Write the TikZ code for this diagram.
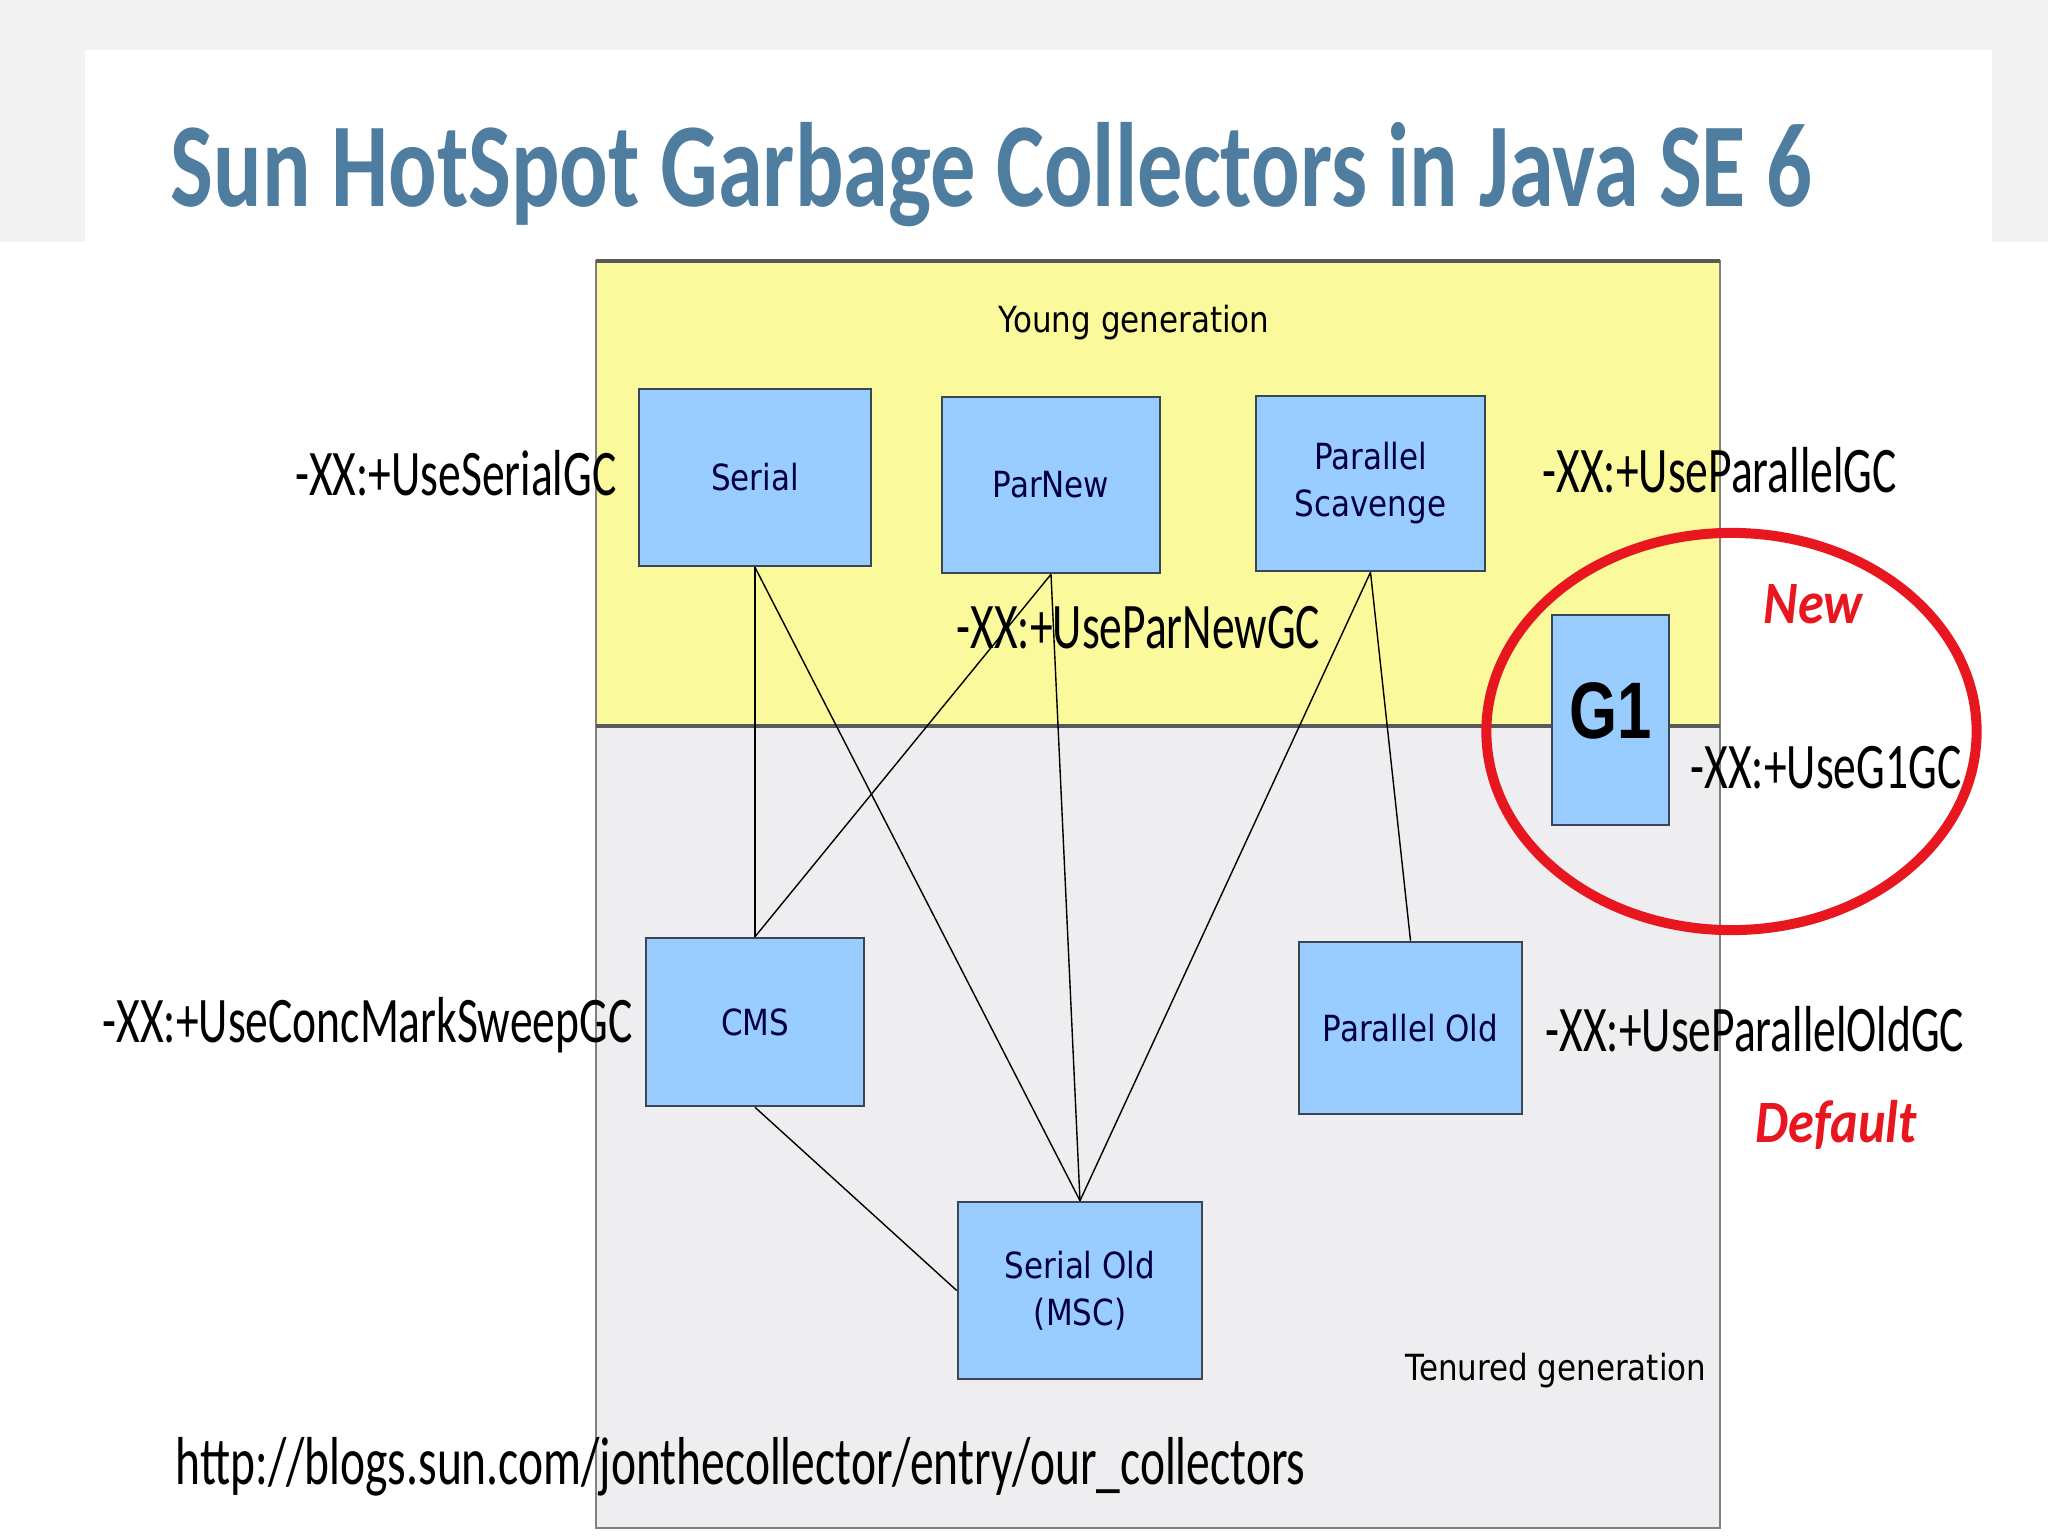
\documentclass[tikz,border=0pt]{standalone}
\usepackage{fontspec}
\usepackage{tikz}
\newfontfamily\titlefont[FakeStretch=0.755]{Carlito}
\newfontfamily\flagfont[FakeStretch=0.70]{Carlito}
\newfontfamily\notefont[FakeStretch=0.87]{Carlito}
\newfontfamily\boxfont[FakeStretch=0.86]{DejaVu Sans}
\newfontfamily\gonefont[FakeStretch=0.77]{Liberation Sans}
\definecolor{titleblue}{HTML}{4F7DA0}
\definecolor{young}{HTML}{FAFA9C}
\definecolor{tenured}{HTML}{EEEEF0}
\definecolor{gcblue}{HTML}{99CCFF}
\definecolor{gcedge}{HTML}{3A4656}
\definecolor{slidegray}{HTML}{F2F2F2}
\definecolor{markred}{HTML}{E8161E}

\begin{document}
\begin{tikzpicture}[x=0.01cm,y=-0.01cm,
    gcbox/.style={draw=gcedge,line width=0.7pt,fill=gcblue,inner sep=0pt,align=center,
      text=black!75!blue,font=\boxfont\fontsize{10.24}{13.37}\selectfont},
    flag/.style={inner sep=0pt,font=\flagfont\fontsize{18.5}{22}\selectfont},
    note/.style={inner sep=0pt,text=markred,font=\notefont\bfseries\itshape\fontsize{17.1}{20}\selectfont},
    genlabel/.style={inner sep=0pt,font=\boxfont\fontsize{10.24}{13}\selectfont}]
  % slide background
  \fill[white] (0,0) rectangle (2048,1536);
  \fill[slidegray] (0,0) rectangle (2048,50);
  \fill[slidegray] (0,50) rectangle (85,242);
  \fill[slidegray] (1992,50) rectangle (2048,242);
  \useasboundingbox (0,0) rectangle (2048,1536);
  \node[anchor=base west,inner sep=0pt,text=titleblue,font=\titlefont\bfseries\fontsize{34.1}{40}\selectfont]
    (title) at (170,206) {Sun HotSpot Garbage Collectors in Java SE 6};
  % generations
  \fill[young] (596,261) rectangle (1720,726);
  \fill[tenured] (596,726) rectangle (1720,1528);
  \draw[black!50,line width=0.5pt] (596,261) rectangle (1720,1528);
  \draw[black!65,line width=0.9pt] (596,261) -- (1720,261);
  \draw[black!65,line width=0.9pt] (596,726) -- (1720,726);
  \node[genlabel,anchor=base] (younglbl) at (1134,332) {Young generation};
  \node[genlabel,anchor=base east] (tenuredlbl) at (1707,1380) {Tenured generation};
  % collectors
  \node[gcbox,minimum width=2.32cm,minimum height=1.77cm] (serial) at (755,477.5) {Serial};
  \node[gcbox,minimum width=2.18cm,minimum height=1.76cm] (parnew) at (1051,485) {ParNew};
  \node[gcbox,minimum width=2.29cm,minimum height=1.75cm] (parscav) at (1370.5,483.5) {Parallel\\Scavenge};
  \node[gcbox,minimum width=2.18cm,minimum height=1.68cm] (cms) at (755,1022) {CMS};
  \node[gcbox,minimum width=2.23cm,minimum height=1.72cm] (parold) at (1410.5,1028) {Parallel Old};
  \node[gcbox,minimum width=2.44cm,minimum height=1.77cm] (serold) at (1080,1290.5) {Serial Old\\(MSC)};
  \node[gcbox,minimum width=1.17cm,minimum height=2.10cm,text depth=0.19cm,text=black,
    font=\gonefont\bfseries\fontsize{22.8}{26}\selectfont] (g1) at (1610.5,720) {G1};
  \foreach \a/\b in {serial/cms,serial/serold,parnew/cms,parnew/serold,parscav/serold,parscav/parold}
    \draw[line width=0.4pt] (\a.south) -- (\b.north);
  \draw[line width=0.4pt] (cms.south) -- (serold.west);
  % command line flags
  \node[flag,anchor=base east] (fserial) at (617,495) {-XX:+UseSerialGC};
  \node[flag,anchor=base east] (fcms) at (633,1042) {-XX:+UseConcMarkSweepGC};
  \node[flag,anchor=base west] (fparnew) at (956,648) {-XX:+UseParNewGC};
  \node[flag,anchor=base west] (fparallel) at (1542,492) {-XX:+UseParallelGC};
  \node[flag,anchor=base west] (fgone) at (1690,788) {-XX:+UseG1GC};
  \node[flag,anchor=base west] (fparold) at (1545,1051) {-XX:+UseParallelOldGC};
  \draw[markred,line width=0.1cm] (1731.5,731.5) ellipse [x radius=2.45cm,y radius=1.985cm];
  \node[note,anchor=base west] (newlbl) at (1763,623) {New};
  \node[note,anchor=base west] (defaultlbl) at (1755,1142) {Default};
  \node[flag,anchor=base west,font=\flagfont\fontsize{19.3}{23}\selectfont] (url) at (175,1484)
    {http://blogs.sun.com/jonthecollector/entry/our\_collectors};
\end{tikzpicture}
\end{document}
